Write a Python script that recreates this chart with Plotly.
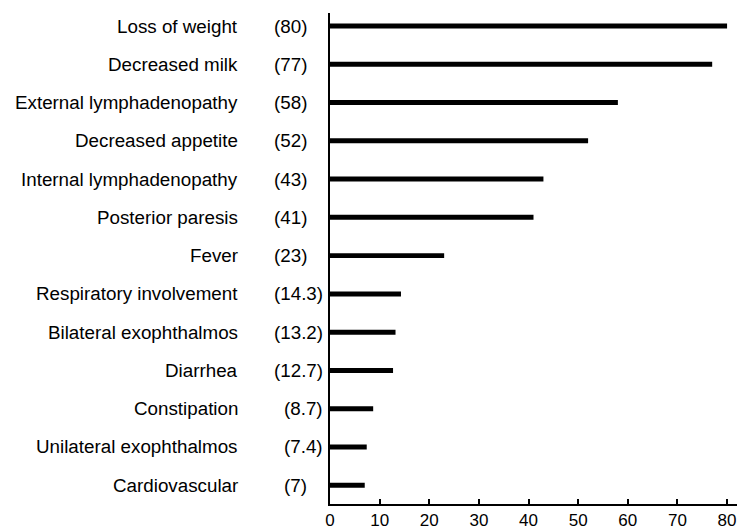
import plotly.graph_objects as go

# Clinical signs and their frequency (%)
signs = [
    "Loss of weight",
    "Decreased milk",
    "External lymphadenopathy",
    "Decreased appetite",
    "Internal lymphadenopathy",
    "Posterior paresis",
    "Fever",
    "Respiratory involvement",
    "Bilateral exophthalmos",
    "Diarrhea",
    "Constipation",
    "Unilateral exophthalmos",
    "Cardiovascular",
]
percent = [80, 77, 58, 52, 43, 41, 23, 14.3, 13.2, 12.7, 8.7, 7.4, 7]
x_ticks = [0, 10, 20, 30, 40, 50, 60, 70, 80]

rows = list(range(len(signs)))
FONT = "Liberation Sans, Arial, Helvetica, sans-serif"
LABEL_SIZE = 18.8

fig = go.Figure(
    go.Bar(
        x=percent,
        y=rows,
        orientation="h",
        width=0.13,
        marker=dict(color="black", line=dict(width=0)),
        hoverinfo="x+text",
        text=signs,
        textposition="none",
    )
)

annotations = []
for i, (name, val) in enumerate(zip(signs, percent)):
    annotations.append(dict(
        x=0, xref="paper", y=i, yref="y",
        text=name, showarrow=False, xanchor="right", yanchor="middle",
        xshift=-90, font=dict(family=FONT, size=LABEL_SIZE, color="black"),
    ))
    label = f"({val:g})"
    annotations.append(dict(
        x=0, xref="paper", y=i, yref="y",
        text=label, showarrow=False, xanchor="right", yanchor="middle",
        xshift=-5 if "." in label else -21,
        font=dict(family=FONT, size=LABEL_SIZE, color="black"),
    ))

fig.update_layout(
    width=737,
    height=530,
    margin=dict(l=330, r=0, t=13, b=23),
    paper_bgcolor="white",
    plot_bgcolor="white",
    showlegend=False,
    font=dict(family=FONT, color="black"),
    annotations=annotations,
    xaxis=dict(
        range=[0, 82],
        tickvals=x_ticks,
        ticks="inside",
        ticklen=5,
        tickwidth=1.5,
        tickcolor="black",
        showline=True,
        linecolor="black",
        linewidth=1.5,
        showgrid=False,
        zeroline=False,
        tickfont=dict(family=FONT, size=17, color="black"),
    ),
    yaxis=dict(
        range=[12.49, -0.34],
        showticklabels=False,
        ticks="",
        showline=True,
        linecolor="black",
        linewidth=1.5,
        showgrid=False,
        zeroline=False,
    ),
)

fig.write_html("out.html")
